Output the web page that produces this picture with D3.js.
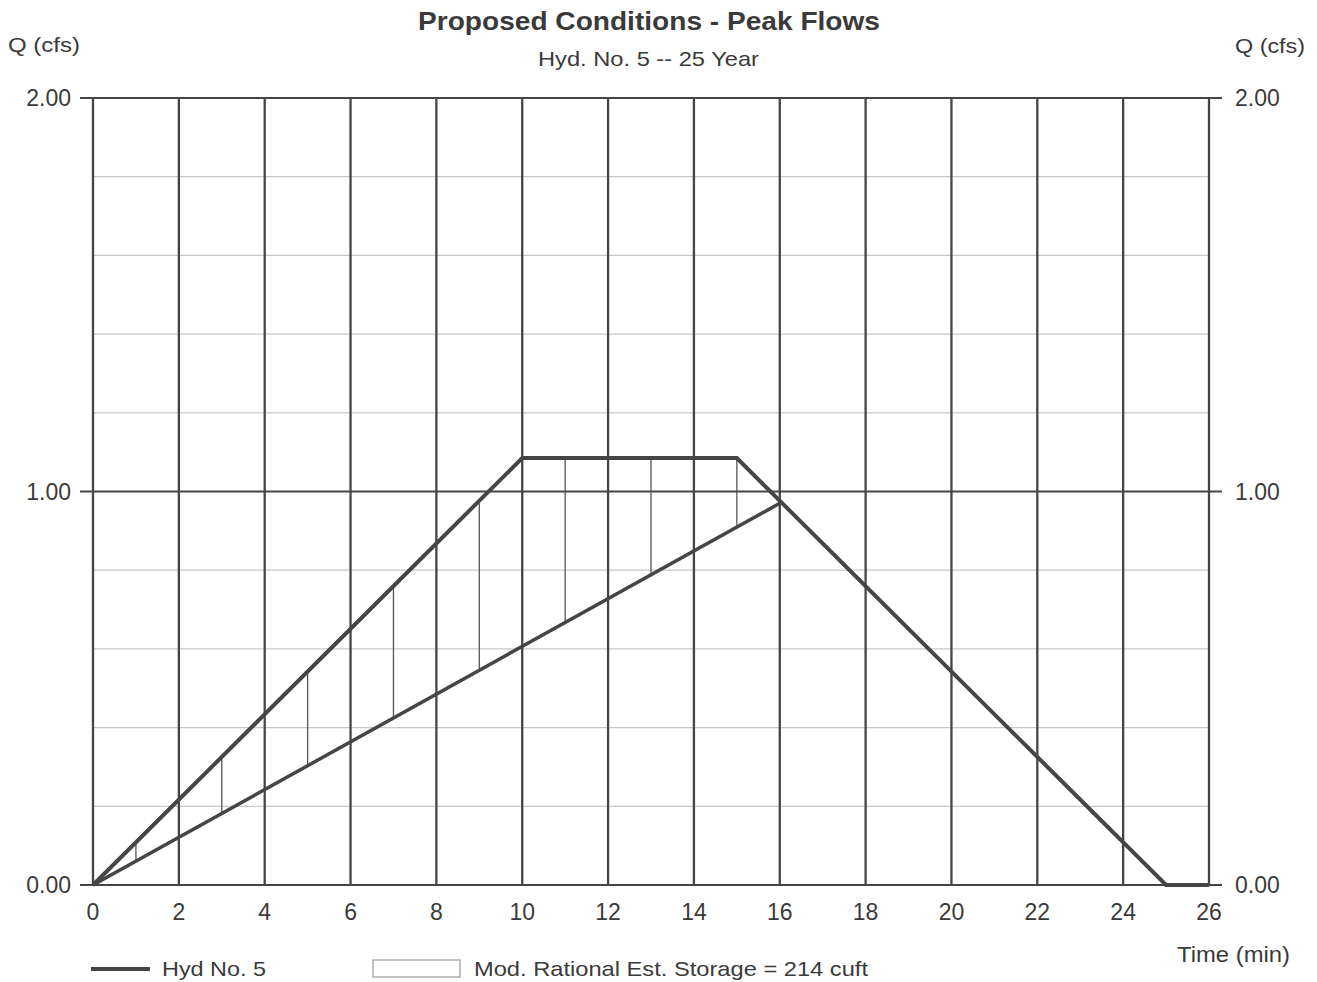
<!DOCTYPE html>
<html><head><meta charset="utf-8">
<script src="https://cdn.jsdelivr.net/npm/d3@7"></script>
<style>body{margin:0;background:#fff;} text{font-family:"Liberation Sans",Arial,sans-serif;fill:#3a3a3a;}</style>
</head><body>
<svg id="c" width="1317" height="982"></svg>
<script>
// ---- data ----
const hydTime = [0, 10, 15, 25, 26];
const hydQ    = [0, 1.085, 1.085, 0, 0];
const outTime = [0, 16];
const outQ    = [0, 0.97];
const hatchTime   = [1, 3, 5, 7, 9, 11, 13, 15];
const hatchTop    = [0.108, 0.325, 0.54, 0.755, 0.97, 1.085, 1.085, 1.085];
const hatchBottom = [0.061, 0.182, 0.303, 0.425, 0.546, 0.667, 0.788, 0.91];
const xTicks = [0,2,4,6,8,10,12,14,16,18,20,22,24,26];
const yMajor = [0, 1, 2];
const yMajorLabels = ["0.00","1.00","2.00"];
const yMinor = [0.2,0.4,0.6,0.8,1.2,1.4,1.6,1.8];
const titleText = "Proposed Conditions - Peak Flows";
const subtitleText = "Hyd. No. 5 -- 25 Year";
const legendLabels = ["Hyd No. 5", "Mod. Rational Est. Storage = 214 cuft"];

const svg = d3.select("#c");
const L = 93, R = 1209, T = 98, B = 885;
const x = d3.scaleLinear().domain([0, 26]).range([L, R]);
const y = d3.scaleLinear().domain([0, 2]).range([B, T]);
const dark = "#454545";

// minor grid
svg.append("g").selectAll("line").data(yMinor).join("line")
  .attr("x1", L).attr("x2", R).attr("y1", d => y(d)).attr("y2", d => y(d))
  .attr("stroke", "#c8c8c8").attr("stroke-width", 1.3);
// vertical grid
svg.append("g").selectAll("line").data(xTicks).join("line")
  .attr("x1", d => x(d)).attr("x2", d => x(d)).attr("y1", T).attr("y2", B)
  .attr("stroke", dark).attr("stroke-width", 2.3);
// major horizontal grid (with tick extensions)
svg.append("g").selectAll("line").data(yMajor).join("line")
  .attr("x1", L - 13).attr("x2", R + 13).attr("y1", d => y(d)).attr("y2", d => y(d))
  .attr("stroke", dark).attr("stroke-width", 2);

// hatch
svg.append("g").selectAll("line").data(hatchTime).join("line")
  .attr("x1", d => x(d)).attr("x2", d => x(d))
  .attr("y1", (d, i) => y(hatchTop[i])).attr("y2", (d, i) => y(hatchBottom[i]))
  .attr("stroke", "#555").attr("stroke-width", 1.3);

const line = d3.line().x(d => x(d[0])).y(d => y(d[1]));
svg.append("path").datum(outTime.map((t, i) => [t, outQ[i]]))
  .attr("d", line).attr("fill", "none").attr("stroke", dark).attr("stroke-width", 3.5);
svg.append("path").datum(hydTime.map((t, i) => [t, hydQ[i]]))
  .attr("d", line).attr("fill", "none").attr("stroke", dark).attr("stroke-width", 4).attr("stroke-linejoin", "miter");

// axis labels
svg.append("g").selectAll("text").data(yMajor).join("text")
  .attr("x", 71).attr("y", d => y(d) + 8).attr("text-anchor", "end")
  .attr("font-size", 23).text((d, i) => yMajorLabels[i]);
svg.append("g").selectAll("text").data(yMajor).join("text")
  .attr("x", 1235).attr("y", d => y(d) + 8).attr("text-anchor", "start")
  .attr("font-size", 23).text((d, i) => yMajorLabels[i]);
svg.append("g").selectAll("text").data(xTicks).join("text")
  .attr("x", d => x(d)).attr("y", 920).attr("text-anchor", "middle")
  .attr("font-size", 23).text(d => d);

svg.append("text").attr("x", 418).attr("y", 30)
  .attr("font-size", 26).attr("font-weight", "bold")
  .attr("textLength", 462).attr("lengthAdjust", "spacingAndGlyphs").text(titleText);
svg.append("text").attr("x", 538).attr("y", 66)
  .attr("font-size", 21).attr("textLength", 221).attr("lengthAdjust", "spacingAndGlyphs").text(subtitleText);
svg.append("text").attr("x", 8).attr("y", 52).attr("font-size", 21)
  .attr("textLength", 72).attr("lengthAdjust", "spacingAndGlyphs").text("Q (cfs)");
svg.append("text").attr("x", 1235).attr("y", 53).attr("font-size", 21)
  .attr("textLength", 70).attr("lengthAdjust", "spacingAndGlyphs").text("Q (cfs)");
svg.append("text").attr("x", 1177).attr("y", 962).attr("font-size", 22)
  .attr("textLength", 113).attr("lengthAdjust", "spacingAndGlyphs").text("Time (min)");

// legend
svg.append("line").attr("x1", 91).attr("x2", 150).attr("y1", 969).attr("y2", 969)
  .attr("stroke", dark).attr("stroke-width", 4);
svg.append("text").attr("x", 162).attr("y", 976).attr("font-size", 21)
  .attr("textLength", 104).attr("lengthAdjust", "spacingAndGlyphs").text(legendLabels[0]);
svg.append("rect").attr("x", 373).attr("y", 960).attr("width", 87).attr("height", 17)
  .attr("fill", "#fff").attr("stroke", "#9a9a9a").attr("stroke-width", 1.2);
svg.append("text").attr("x", 474).attr("y", 976).attr("font-size", 21)
  .attr("textLength", 394).attr("lengthAdjust", "spacingAndGlyphs").text(legendLabels[1]);
</script>
</body></html>
